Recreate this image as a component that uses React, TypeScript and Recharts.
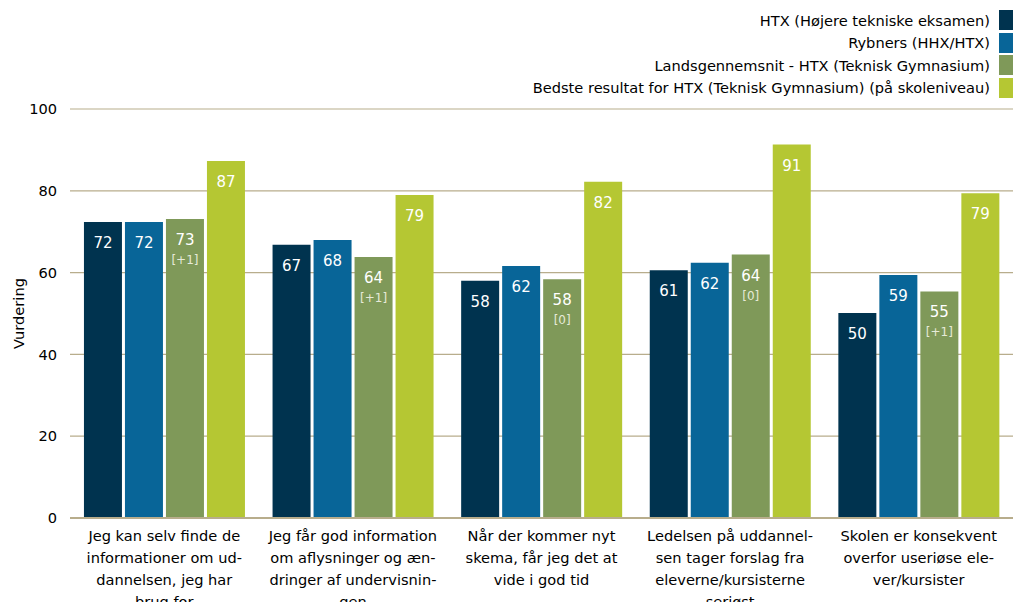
import { BarChart, Bar, XAxis, YAxis, CartesianGrid, LabelList } from 'recharts'

const categoryLines = [
  ['Jeg kan selv finde de', 'informationer om ud-', 'dannelsen, jeg har', 'brug for'],
  ['Jeg får god information', 'om aflysninger og æn-', 'dringer af undervisnin-', 'gen'],
  ['Når der kommer nyt', 'skema, får jeg det at', 'vide i god tid'],
  ['Ledelsen på uddannel-', 'sen tager forslag fra', 'eleverne/kursisterne', 'seriøst'],
  ['Skolen er konsekvent', 'overfor useriøse ele-', 'ver/kursister'],
]

const seriesNames = [
  'HTX (Højere tekniske eksamen)',
  'Rybners (HHX/HTX)',
  'Landsgennemsnit - HTX (Teknisk Gymnasium)',
  'Bedste resultat for HTX (Teknisk Gymnasium) (på skoleniveau)',
]
const seriesColors = ['#00334f', '#086598', '#7f9959', '#b5c733']

const htx = [72.4, 66.8, 58.0, 60.6, 50.1]
const rybners = [72.4, 68.0, 61.6, 62.4, 59.4]
const landsgennemsnit = [73.1, 63.8, 58.4, 64.4, 55.4]
const bedste = [87.3, 79.0, 82.2, 91.3, 79.4]
const change = ['[+1]', '[+1]', '[0]', '[0]', '[+1]']

const yTicks = [0, 20, 40, 60, 80, 100]

const data = categoryLines.map((lines, i) => ({
  name: lines.join(' '),
  htx: htx[i],
  rybners: rybners[i],
  lands: landsgennemsnit[i],
  bedste: bedste[i],
}))

const FONT = 'DejaVu Sans, Verdana, sans-serif'

function CategoryTick({ x, y, index }: any) {
  const lines = categoryLines[index] || []
  return (
    <text x={x} y={y} textAnchor="middle" fontFamily={FONT} fontSize={14.6} fill="#000">
      {lines.map((l, k) => (
        <tspan key={k} x={x} dy={k === 0 ? 15 : 22}>
          {l}
        </tspan>
      ))}
    </text>
  )
}

function makeValueLabel(withChange: boolean) {
  return (props: any) => {
    const { x, y, width, value, index } = props
    const cx = x + width / 2
    return (
      <g>
        <text x={cx} y={y + 21} textAnchor="middle" dominantBaseline="central" fontFamily={FONT} fontSize={15} fill="#fff">
          {Math.round(value)}
        </text>
        {withChange && (
          <text x={cx} y={y + 41} textAnchor="middle" dominantBaseline="central" fontFamily={FONT} fontSize={12} fill="#e6ead8">
            {change[index]}
          </text>
        )}
      </g>
    )
  }
}

function YLabel({ viewBox }: any) {
  const cy = viewBox.y + viewBox.height / 2
  return (
    <text x={18} y={cy} transform={`rotate(-90 18 ${cy})`} textAnchor="middle" dominantBaseline="central" fontFamily={FONT} fontSize={14.6} fill="#000">
      Vurdering
    </text>
  )
}

export default function App() {
  const keys = ['htx', 'rybners', 'lands', 'bedste']
  return (
    <div style={{ position: 'absolute', left: 0, top: 0, width: 1013, height: 602, overflow: 'hidden', background: '#fff' }}>
      <div style={{ position: 'absolute', right: 0, top: 9, fontFamily: FONT, fontSize: 14.6 }}>
        {seriesNames.map((n, i) => (
          <div key={n} style={{ display: 'flex', alignItems: 'center', justifyContent: 'flex-end', height: 22.5 }}>
            <span style={{ marginRight: 9 }}>{n}</span>
            <span style={{ display: 'inline-block', width: 14, height: 20, background: seriesColors[i] }} />
          </div>
        ))}
      </div>
      <BarChart
        width={1013}
        height={602}
        data={data}
        margin={{ top: 109, right: 0, bottom: 0, left: 0 }}
        barCategoryGap="7.4%"
        barGap={3}
      >
        <CartesianGrid vertical={false} stroke="#b8ad8c" strokeWidth={1.2} />
        <XAxis
          dataKey="name"
          interval={0}
          tickLine={false}
          axisLine={{ stroke: '#b8ad8c', strokeWidth: 2 }}
          tick={<CategoryTick />}
          height={84}
        />
        <YAxis
          domain={[0, 100]}
          ticks={yTicks}
          width={70}
          axisLine={false}
          tickLine={false}
          tickMargin={7}
          tick={{ fill: '#000', fontSize: 14.6, fontFamily: FONT }}
          label={<YLabel />}
        />
        {keys.map((k, i) => (
          <Bar key={k} dataKey={k} name={seriesNames[i]} fill={seriesColors[i]} isAnimationActive={false}>
            <LabelList dataKey={k} content={makeValueLabel(k === 'lands')} />
          </Bar>
        ))}
      </BarChart>
    </div>
  )
}
